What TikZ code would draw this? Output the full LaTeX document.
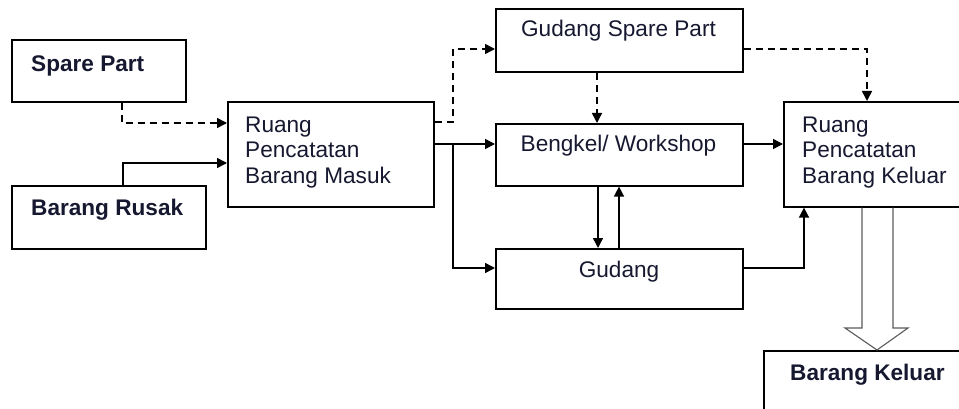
\documentclass[tikz,border=0pt]{standalone}
\usepackage{fontspec}
\setmainfont{Liberation Sans}
\usetikzlibrary{arrows.meta}
\definecolor{ink}{RGB}{22,24,48}
\definecolor{hollow}{RGB}{90,90,90}
\begin{document}
\begin{tikzpicture}[x=1pt,y=-1pt,
  box/.style={draw=black,line width=1.6pt,inner sep=0pt,anchor=north west},
  lbl/.style={anchor=base west,inner sep=0pt,text=ink,font=\fontsize{22.6}{25}\selectfont},
  lblc/.style={lbl,anchor=base},
  lblb/.style={lbl,font=\fontsize{22.6}{25}\selectfont\bfseries},
  flow/.style={line width=1.5pt,-{Triangle[length=10pt,width=10pt]}},
  dflow/.style={flow,dash pattern=on 7pt off 5pt},
]
\useasboundingbox (0,0) rectangle (959,409);
\clip (0,0) rectangle (959,409);

% boxes
\node[box,minimum width=174pt,minimum height=62pt] (sp) at (11,39) {};
\node[box,minimum width=194pt,minimum height=63pt] (br) at (11,185) {};
\node[box,minimum width=206pt,minimum height=105pt] (rpbm) at (227,101) {};
\node[box,minimum width=247pt,minimum height=63pt] (gsp) at (495,8) {};
\node[box,minimum width=247pt,minimum height=62pt] (bw) at (495,123) {};
\node[box,minimum width=247pt,minimum height=60pt] (gd) at (495,248) {};
\node[box,minimum width=190pt,minimum height=105pt] (rpbk) at (783,101) {};
\node[box,minimum width=210pt,minimum height=70pt] (bk) at (763,350) {};

% labels
\node[lblb] (tsp) at (31,72) {Spare Part};
\node[lblb] (tbr) at (31,215) {Barang Rusak};
\node[lbl] (tm1) at (245,133) {Ruang};
\node[lbl] (tm2) at (245,158) {Pencatatan};
\node[lbl] (tm3) at (245,183) {Barang Masuk};
\node[lblc] (tgsp) at (618.5,37) {Gudang Spare Part};
\node[lblc] (tbw) at (618.5,152) {Bengkel/ Workshop};
\node[lblc] (tgd) at (619,277) {Gudang};
\node[lbl] (tk1) at (802,133) {Ruang};
\node[lbl] (tk2) at (802,158) {Pencatatan};
\node[lbl] (tk3) at (802,183) {Barang Keluar};
\node[lblb] (tbk) at (790,380) {Barang Keluar};

% incoming flows
\draw[dflow] (sp.south -| 122,0) |- (rpbm.west |- 0,123);
\draw[flow] (br.north -| 123,0) |- (rpbm.west |- 0,163);

% from the intake room
\coordinate (split) at (453,144);
\draw[dflow] (rpbm.east |- 0,122) -- (453,122) |- (gsp.west |- 0,49);
\draw[flow] (rpbm.east |- split) -- (bw.west |- split);
\draw[flow] (split) |- (gd.west |- 0,268);

% spare part store
\draw[dflow] (gsp.south -| 597,0) -- (bw.north -| 597,0);
\draw[dflow] (gsp.east |- 0,49) -| (rpbk.north -| 867,0);

% workshop and store
\draw[flow] (bw.east |- split) -- (rpbk.west |- split);
\draw[flow] (bw.south -| 598,0) -- (gd.north -| 598,0);
\draw[flow] (gd.north -| 619,0) -- (bw.south -| 619,0);
\draw[flow] (gd.east |- 0,268) -| (rpbk.south -| 804,0);

% hollow output arrow
\draw[hollow,line width=1.1pt,line join=miter]
  (rpbk.south -| 862,0) -- (862,328) -- (845,328) -- (bk.north -| 877,0)
  -- (908,328) -- (893,328) -- (rpbk.south -| 893,0);
\end{tikzpicture}
\end{document}
